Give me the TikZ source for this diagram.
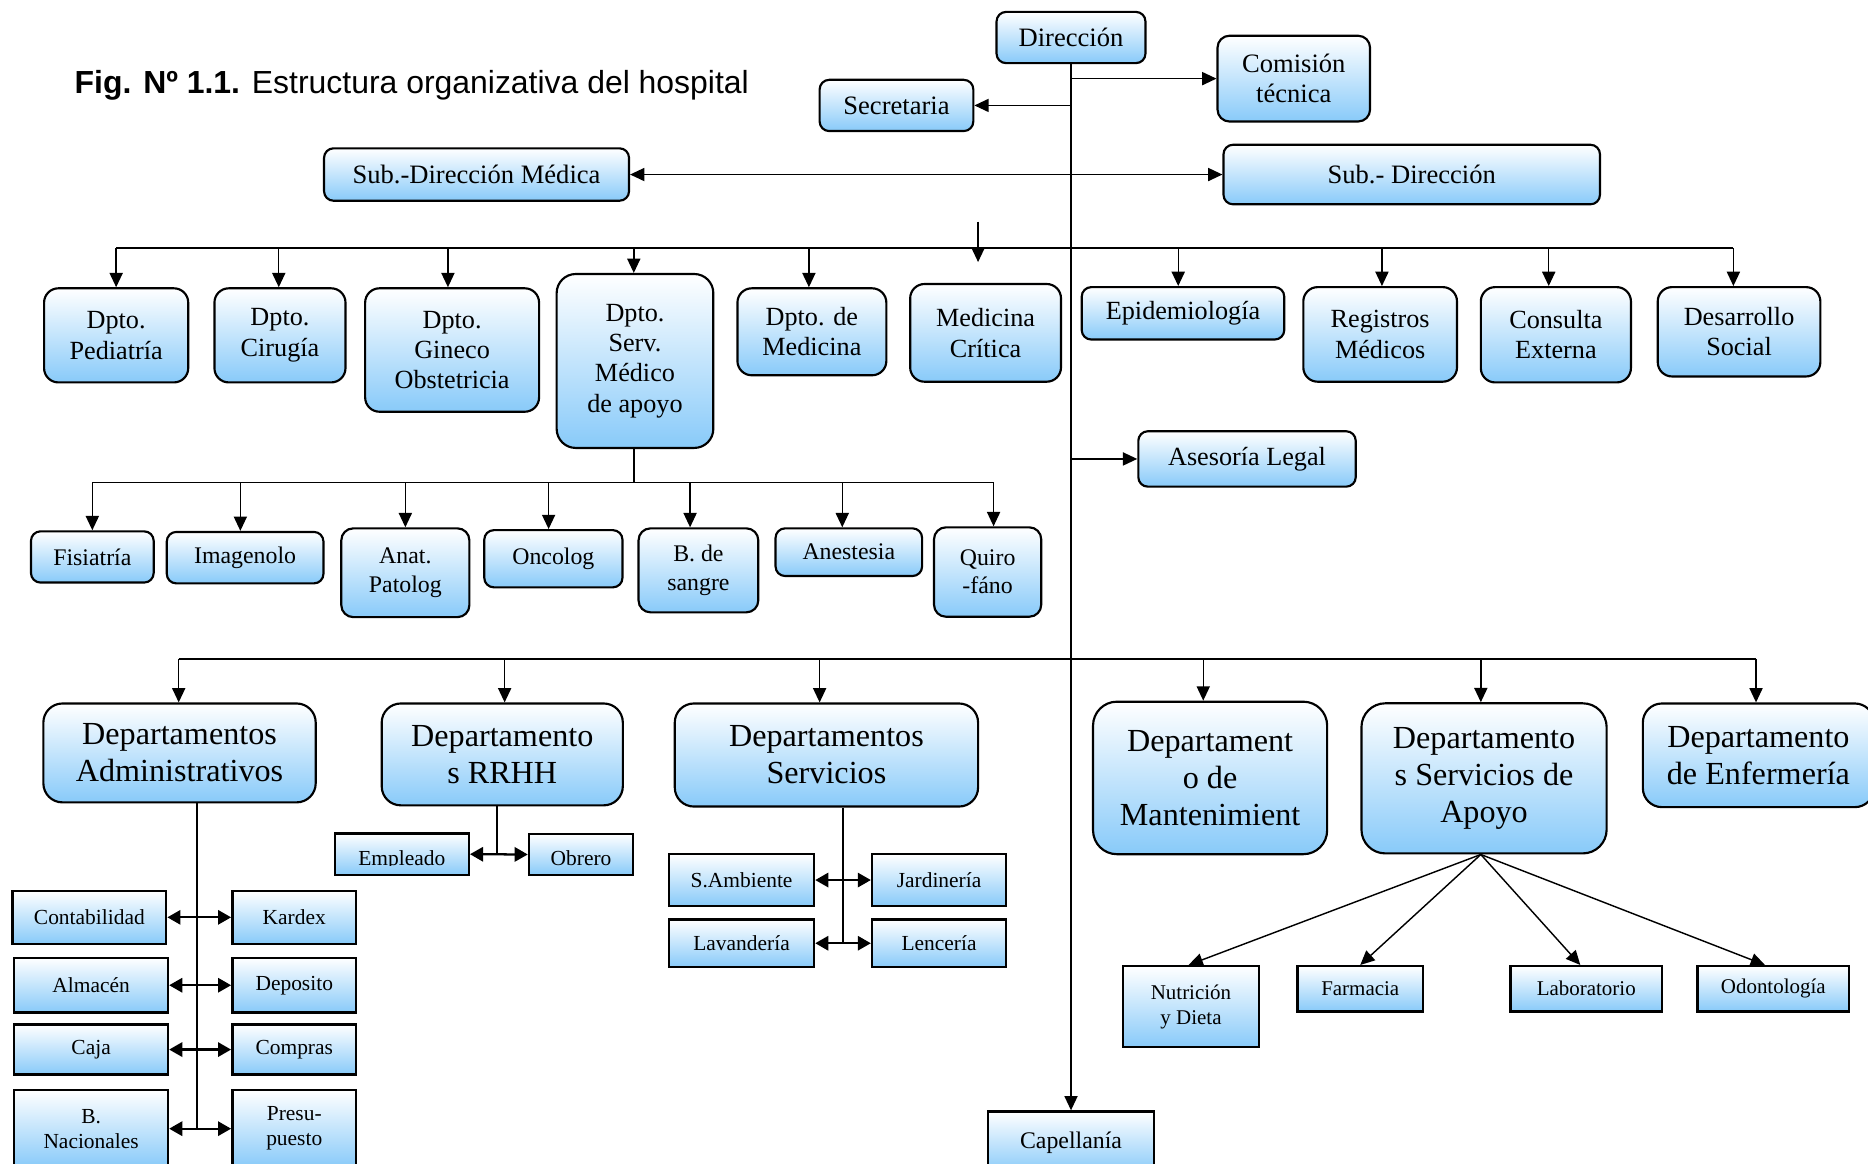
\documentclass[tikz,border=0pt]{standalone}
\usepackage{fontspec}
\setmainfont{Liberation Serif}
\newfontfamily\titlefont{Liberation Sans}
\usetikzlibrary{arrows.meta,calc}
\definecolor{boxblue}{RGB}{136,202,249}
\tikzset{
  rb/.style={draw, line width=1.8pt, top color=white, bottom color=boxblue,
    align=center, inner sep=0pt, rounded corners=#1},
  rb/.default=8pt,
  sq/.style={draw, line width=2pt, top color=white, bottom color=boxblue,
    align=center, inner sep=0pt},
  ln/.style={line width=1.2pt},
  arr/.style={line width=1.2pt, -{Triangle[length=12pt,width=11pt]}},
  darr/.style={line width=1.9pt, {Triangle[length=11pt,width=12pt]}-{Triangle[length=11pt,width=12pt]}},
  sarr/.style={line width=1.2pt, {Triangle[length=12pt,width=11pt]}-{Triangle[length=12pt,width=11pt]}},
  fT/.style={font=\fontsize{22.3pt}{25.6pt}\selectfont},
  fL/.style={font=\fontsize{22pt}{25.5pt}\selectfont},
  fM/.style={font=\fontsize{20pt}{23.8pt}\selectfont},
  fB/.style={font=\fontsize{27pt}{31pt}\selectfont},
  fS/.style={font=\fontsize{18pt}{21pt}\selectfont},
  fSs/.style={font=\fontsize{17.6pt}{21pt}\selectfont},
}
\begin{document}
\begin{tikzpicture}[x=1pt, y=-1pt]
\useasboundingbox (0,0) rectangle (1568,977);

% title
\node[anchor=base west, inner sep=0pt, font=\titlefont\fontsize{26.8pt}{30pt}\selectfont] (title) at (62.5,78.3)
  {\textbf{Fig. Nº 1.1.} Estructura organizativa del hospital};

% top level
\node[rb, fT, minimum width=125pt, minimum height=43pt] (dir) at (899,31.5) {Dirección};
\node[rb=10pt, fT, minimum width=128pt, minimum height=72pt] (com) at (1086,66) {Comisión\\técnica};
\node[rb, fT, minimum width=129pt, minimum height=43pt] (sec) at (752.5,88.5) {Secretaria};
\node[rb, fT, minimum width=256pt, minimum height=44pt] (sdm) at (400,146.5) {Sub.-Dirección Médica};
\node[rb, fT, minimum width=316pt, minimum height=50pt] (sd) at (1185,146.5) {Sub.- Dirección};

% level 2
\node[rb=12pt, fL, minimum width=121pt, minimum height=79pt] (ped) at (97.5,281.5) {Dpto.\\Pediatría};
\node[rb=12pt, fL, minimum width=110pt, minimum height=79pt] (cir) at (235,281.5) {Dpto.\\Cirugía};
\node[rb=12pt, fL, minimum width=146pt, minimum height=103.6pt] (gin) at (379.5,293.8) {Dpto.\\Gineco\\Obstetricia};
\node[rb=16pt, fL, minimum width=131.5pt, minimum height=146pt] (smed) at (533,303) {Dpto.\\Serv.\\Médico\\de apoyo};
\node[rb=12pt, fL, minimum width=125pt, minimum height=73pt] (med) at (681.5,278.5) {Dpto. de\\Medicina};
\node[rb=12pt, fL, minimum width=126.6pt, minimum height=82pt] (mcr) at (827.3,279.4) {Medicina\\Crítica};
\node[rb=8pt, fL, minimum width=170pt, minimum height=44pt] (epi) at (993,263) {Epidemiología};
\node[rb=12pt, fL, minimum width=129pt, minimum height=79.4pt] (reg) at (1158.5,280.7) {Registros\\Médicos};
\node[rb=12pt, fL, minimum width=126pt, minimum height=80pt] (con) at (1306,281) {Consulta\\Externa};
\node[rb=12pt, fL, minimum width=136.5pt, minimum height=75pt] (des) at (1459.75,278.5) {Desarrollo\\Social};

\node[rb, fL, minimum width=182.5pt, minimum height=46.5pt] (ase) at (1046.75,385.25) {Asesoría Legal};

% level 3
\node[rb, fM, minimum width=103pt, minimum height=43pt] (fis) at (77.5,467.5) {Fisiatría};
\node[rb, fM, minimum width=131.5pt, minimum height=43.2pt] (ima) at (205.75,468.1) {Imagenolo};
\node[rb=10pt, fM, minimum width=107.5pt, minimum height=74.5pt] (ana) at (340.25,480.75) {Anat.\\Patolog};
\node[rb, fM, minimum width=116pt, minimum height=48pt] (onc) at (464.5,469) {Oncolog};
\node[rb=10pt, fM, minimum width=100.5pt, minimum height=70.5pt] (bsa) at (586.25,478.75) {B. de\\sangre};
\node[rb, fM, minimum width=123pt, minimum height=40pt] (ane) at (712.5,463.5) {Anestesia};
\node[rb=10pt, fM, minimum width=90pt, minimum height=75pt] (qui) at (829,480.15) {Quiro\\-fáno};

% level 4
\node[rb=16pt, fB, minimum width=228.6pt, minimum height=83pt] (adm) at (150.7,632) {Departamentos\\Administrativos};
\node[rb=16pt, fB, minimum width=202.4pt, minimum height=85.5pt] (rrh) at (421.6,633.25) {Departamento\\s RRHH};
\node[rb=16pt, fB, minimum width=254.6pt, minimum height=86.5pt] (ser) at (693.7,633.75) {Departamentos\\Servicios};
\node[rb=20pt, fB, minimum width=196.5pt, minimum height=128pt] (man) at (1015.75,653) {Departament\\o de\\Mantenimient};
\node[rb=20pt, fB, minimum width=205.8pt, minimum height=126pt] (apo) at (1245.7,653.35) {Departamento\\s Servicios de\\Apoyo};
\node[rb=16pt, fB, minimum width=194pt, minimum height=87pt] (enf) at (1476,634) {Departamento\\de Enfermería};

% administrative children
\node[sq, fS, minimum width=129pt, minimum height=44.4pt] (cont) at (75,770) {Contabilidad};
\node[sq, fS, minimum width=104pt, minimum height=44.4pt] (kar) at (247,770) {Kardex};
\node[sq, fS, minimum width=129pt, minimum height=46pt] (alm) at (76.5,827) {Almacén};
\node[sq, fS, minimum width=104pt, minimum height=46pt] (dep) at (247,827) {Deposito};
\node[sq, fS, minimum width=129pt, minimum height=42pt] (caj) at (76.5,881) {Caja};
\node[sq, fS, minimum width=104pt, minimum height=42pt] (cmp) at (247,881) {Compras};
\node[sq, fS, minimum width=129pt, minimum height=65.2pt] (bna) at (76.5,947.4) {B.\\Nacionales};
\node[sq, fS, minimum width=104pt, minimum height=65.2pt] (pre) at (247,947.4) {Presu-\\puesto};

% RRHH children (text clipped at the bottom)
\node[sq, minimum width=112.5pt, minimum height=35pt] (emp) at (337.25,717) {};
\node[sq, minimum width=87.5pt, minimum height=34.5pt] (obr) at (487.75,717.25) {};
\begin{scope}
  \clip (emp.north west) rectangle ($(emp.south east)+(0,-9)$);
  \node[anchor=base, inner sep=0pt, fS] (empt) at ($(emp.south)+(0,-9)$) {Empleado};
\end{scope}
\begin{scope}
  \clip (obr.north west) rectangle ($(obr.south east)+(0,-9)$);
  \node[anchor=base, inner sep=0pt, fS] (obrt) at ($(obr.south)+(0,-9)$) {Obrero};
\end{scope}

% services children
\node[sq, fS, minimum width=121.7pt, minimum height=43.4pt] (sam) at (622.45,738.7) {S.Ambiente};
\node[sq, fS, minimum width=112.5pt, minimum height=43.4pt] (jar) at (788.25,738.7) {Jardinería};
\node[sq, fS, minimum width=121.7pt, minimum height=40pt] (lav) at (622.45,791.75) {Lavandería};
\node[sq, fS, minimum width=112.5pt, minimum height=40pt] (len) at (788.25,791.75) {Lencería};

% support children
\node[sq, fSs, minimum width=114.6pt, minimum height=68pt] (nut) at (999.7,845) {Nutrición\\y Dieta};
\node[sq, fSs, minimum width=105.6pt, minimum height=38pt] (far) at (1141.8,830) {Farmacia};
\node[sq, fSs, minimum width=127pt, minimum height=38pt] (lab) at (1331.5,830) {Laboratorio};
\node[sq, fSs, minimum width=127pt, minimum height=38pt] (odo) at (1488.5,830) {Odontología};

\node[sq, fM, minimum width=139pt, minimum height=52pt] (cap) at (899,959) {Capellanía};

% ---------- connectors ----------
\draw[arr] (dir.south) -- (cap.north);
\draw[arr] (com.west -| dir.south) -- (com.west);
\draw[arr] (sec.east -| dir.south) -- (sec.east);
\draw[sarr] (sdm.east) -- (sd.west);
\draw[arr] (ase.west -| dir.south) -- (ase.west);

% free arrow
\coordinate (fa1) at (821,186);
\coordinate (fa2) at (821,220);
\draw[arr] (fa1) -- (fa2);

% level 2 bus
\coordinate (b2) at (0,208);
\draw[ln] (ped.north |- b2) -- ($(des.north |- b2)+(-4.75,0)$);
\foreach \n/\d in {ped/0,cir/-1,gin/-3.5,smed/-1,med/-2.5,epi/-4,reg/1.5,con/-6,des/-4.75}
  \draw[arr] ($(\n.north |- b2)+(\d,0)$) -- ($(\n.north)+(\d,0)$);

% level 3 bus
\coordinate (b3) at (0,405);
\draw[ln] ($(smed.south)+(-1,0)$) -- ($(smed.south |- b3)+(-1,0)$);
\draw[ln] (fis.north |- b3) -- ($(qui.north |- b3)+(5,0)$);
\foreach \n/\d in {fis/0,ima/-4,ana/0,onc/-4,bsa/-7,ane/-5.5,qui/5}
  \draw[arr] ($(\n.north |- b3)+(\d,0)$) -- ($(\n.north)+(\d,0)$);

% level 4 bus
\coordinate (b4) at (0,553);
\draw[ln] ($(adm.north |- b4)+(-0.7,0)$) -- ($(enf.north |- b4)+(-2,0)$);
\foreach \n/\d in {adm/-0.7,rrh/2,ser/-5.7,man/-5.75,apo/-2.7,enf/-2}
  \draw[arr] ($(\n.north |- b4)+(\d,0)$) -- ($(\n.north)+(\d,0)$);

% administrative trunk
\coordinate (amid) at ($(bna.east)!.5!(pre.west)+(-2.5,0)$);
\draw[ln] (amid |- adm.south) -- (amid);
\draw[darr] (cont.east) -- (kar.west);
\draw[darr] (alm.east) -- (dep.west);
\draw[darr] (caj.east) -- (cmp.west);
\draw[darr] (bna.east) -- (pre.west);

% RRHH trunk
\coordinate (rmid) at ($(emp.east)!.5!(obr.west)+(-1.5,0)$);
\draw[ln] (rmid |- rrh.south) -- (rmid);
\draw[darr] (emp.east) -- (obr.west);

% services trunk
\coordinate (smid) at ($(lav.east)!.5!(len.west)$);
\draw[ln] (smid |- ser.south) -- (smid);
\draw[darr] (sam.east) -- (jar.west);
\draw[darr] (lav.east) -- (len.west);

% support fan
\draw[arr] ($(apo.south)+(-2.7,0)$) -- ($(nut.north)+(-2,0)$);
\draw[arr] ($(apo.south)+(-2.7,0)$) -- (far.north);
\draw[arr] ($(apo.south)+(-2.7,0)$) -- ($(lab.north)+(-5,0)$);
\draw[arr] ($(apo.south)+(-2.7,0)$) -- ($(odo.north)+(-7,0)$);
\end{tikzpicture}
\end{document}
